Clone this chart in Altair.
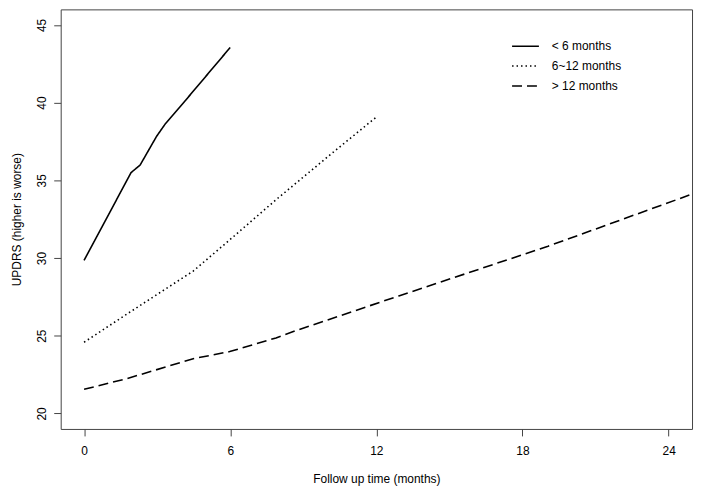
import altair as alt
import pandas as pd

groups = ["< 6 months", "6~12 months", "> 12 months"]

x_lt6 = [0.0, 1.93, 2.30, 2.98, 3.32, 4.14, 6.0]
y_lt6 = [29.85, 35.5, 35.98, 37.84, 38.6, 40.1, 43.55]

x_6to12 = [0.0, 1.96, 4.48, 5.84, 7.88, 10.2, 12.02]
y_6to12 = [24.58, 26.6, 29.16, 30.98, 33.75, 36.77, 39.1]

x_gt12 = [0.0, 1.76, 4.48, 5.98, 7.88, 8.7, 12.92, 14.15, 19.05, 24.85]
y_gt12 = [21.55, 22.24, 23.52, 23.98, 24.86, 25.33, 27.56, 28.2, 30.76, 34.05]

x_ticks = [0, 6, 12, 18, 24]
y_ticks = [20, 25, 30, 35, 40, 45]

rows = []
for g, xs, ys in zip(groups, [x_lt6, x_6to12, x_gt12], [y_lt6, y_6to12, y_gt12]):
    for xv, yv in zip(xs, ys):
        rows.append({"group": g, "month": xv, "updrs": yv})
df = pd.DataFrame(rows)

FONT = "Liberation Sans"

chart = alt.Chart(df).mark_line(color="black", strokeWidth=1.6, clip=True).encode(
    x=alt.X(
        "month:Q",
        scale=alt.Scale(domain=[-0.96, 24.96], nice=False, zero=False),
        axis=alt.Axis(
            values=x_ticks, title="Follow up time (months)", labelPadding=10,
            labelFlush=False, labelOverlap=False, titleY=50, titleBaseline="middle",
        ),
    ),
    y=alt.Y(
        "updrs:Q",
        scale=alt.Scale(domain=[19, 46], nice=False, zero=False),
        axis=alt.Axis(
            values=y_ticks, title="UPDRS (higher is worse)", labelAngle=270,
            labelAlign="center", labelBaseline="alphabetic", labelPadding=8,
            labelFlush=False, labelOverlap=False,
            titleAngle=270, titleX=-44, titleY=211, titleAlign="center",
            titleBaseline="middle",
        ),
    ),
    strokeDash=alt.StrokeDash(
        "group:N",
        scale=alt.Scale(domain=groups, range=[[1, 0], [1.5, 3], [10, 5]]),
        legend=alt.Legend(
            orient="none", legendX=453, legendY=27, title=None,
            symbolType="stroke", symbolSize=729, symbolStrokeWidth=1.6,
            symbolStrokeColor="black", labelFont=FONT, labelFontSize=12,
            labelColor="black", labelOffset=12, clipHeight=20, rowPadding=0,
            padding=0,
        ),
    ),
    order="month:Q",
).properties(
    width=635, height=422,
    padding={"left": 53, "top": 0, "right": 4, "bottom": 60},
    autosize=alt.AutoSizeParams(type="none"),
).configure_view(
    stroke="#444", strokeWidth=1
).configure_axis(
    labelFont=FONT, titleFont=FONT, labelFontSize=12, titleFontSize=12,
    titleFontWeight="normal", labelColor="black", titleColor="black",
    domain=False, grid=False, tickColor="#444", tickSize=7, tickWidth=1,
)

chart.save("out.html", embed_options={"renderer": "svg", "actions": False})
